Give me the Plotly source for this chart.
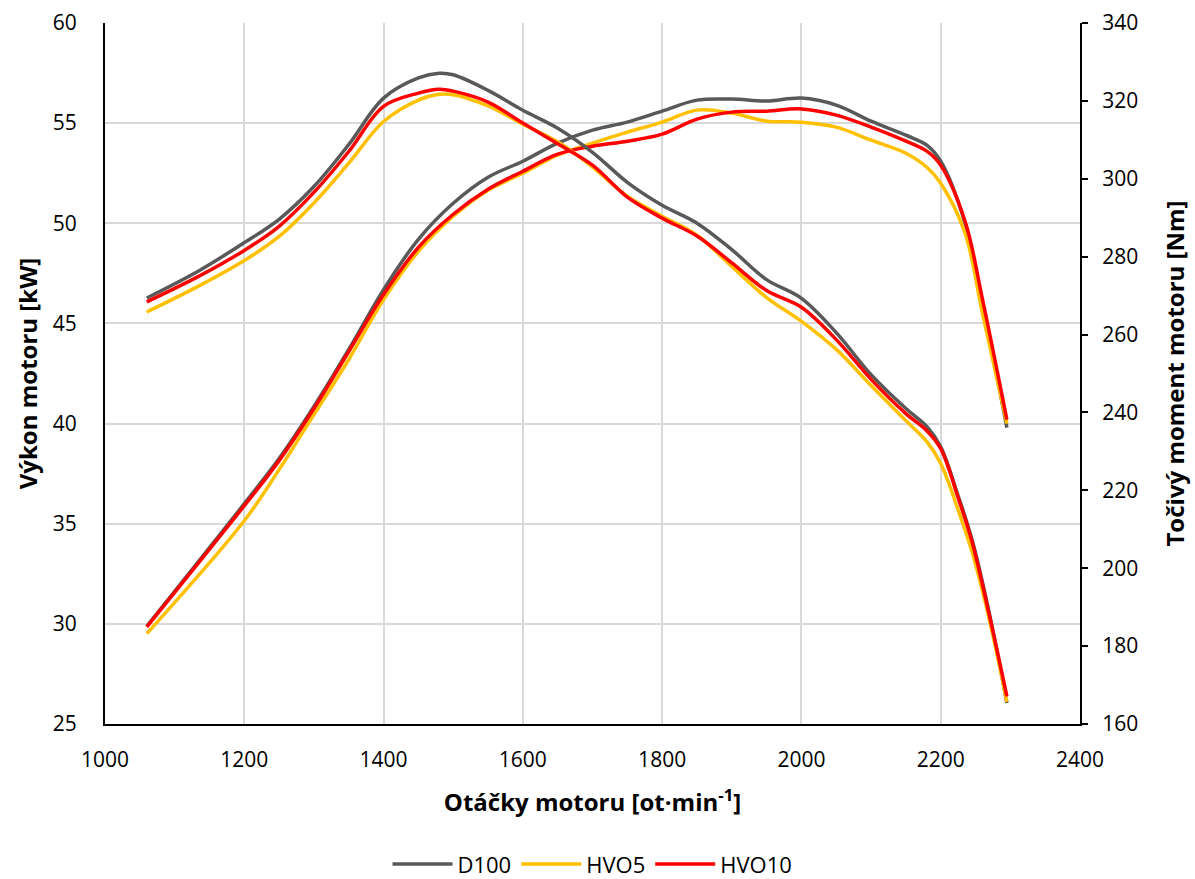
import plotly.graph_objects as go

# engine speed grids [rpm]
rpm_power = [1060, 1200, 1250, 1300, 1350, 1400, 1450, 1500, 1550, 1600, 1650, 1700,
             1750, 1800, 1850, 1900, 1950, 2000, 2050, 2100, 2150, 2180, 2200, 2235, 2260, 2295]
rpm_torque = [1060, 1135, 1200, 1250, 1300, 1350, 1400, 1450, 1480, 1500, 1550, 1600, 1650, 1700,
              1750, 1800, 1850, 1900, 1950, 2000, 2050, 2100, 2150, 2180, 2200, 2225, 2245, 2270, 2295]

# engine power [kW]
power_d100 = [29.88, 36.0, 38.25, 40.85, 43.7, 46.69, 49.2, 51.0, 52.3, 53.1, 54.0, 54.65,
              55.05, 55.6, 56.15, 56.2, 56.1, 56.25, 55.9, 55.1, 54.4, 53.9, 53.1, 50.0, 46.0, 39.8]
power_hvo5 = [29.51, 35.15, 37.7, 40.45, 43.2, 46.19, 48.6, 50.35, 51.65, 52.5, 53.4, 54.0,
              54.55, 55.05, 55.65, 55.5, 55.1, 55.05, 54.8, 54.15, 53.5, 52.8, 52.0, 49.5, 45.5, 40.0]
power_hvo10 = [29.85, 35.9, 38.15, 40.75, 43.6, 46.44, 48.8, 50.45, 51.7, 52.6, 53.45, 53.85,
               54.1, 54.45, 55.2, 55.55, 55.6, 55.71, 55.4, 54.8, 54.1, 53.6, 52.9, 50.1, 46.2, 40.2]

# engine torque [Nm]
torque_d100 = [269.4, 276.4, 283.6, 289.6, 298.0, 308.8, 320.7, 325.9, 327.1, 326.7, 322.7, 317.6,
               313.0, 306.8, 299.1, 293.2, 288.6, 281.8, 274.1, 269.3, 260.5, 249.7, 241.0, 236.4,
               231.2, 218.6, 207.3, 188.3, 165.4]
torque_hvo5 = [265.8, 272.5, 279.0, 285.2, 293.8, 304.0, 314.7, 320.2, 321.7, 321.6, 318.7, 314.0,
               309.5, 303.0, 295.5, 290.4, 285.5, 277.5, 269.5, 263.4, 256.2, 246.9, 237.9, 232.5,
               226.9, 215.0, 204.2, 186.7, 165.7]
torque_hvo10 = [268.4, 275.0, 281.6, 287.8, 296.5, 307.0, 318.6, 322.0, 323.0, 322.5, 319.7, 314.3,
                309.0, 303.5, 295.3, 289.9, 285.3, 278.4, 271.3, 267.0, 258.7, 248.5, 239.7, 235.3,
                230.7, 218.1, 206.8, 187.8, 167.1]

series = [
    ("D100", "#595959", power_d100, torque_d100),
    ("HVO5", "#FFC000", power_hvo5, torque_hvo5),
    ("HVO10", "#FF0000", power_hvo10, torque_hvo10),
]

FONT = "Open Sans"
fig = go.Figure()
for name, color, p, t in series:
    fig.add_trace(go.Scatter(x=rpm_power, y=p, name=name, mode="lines",
                             line=dict(color=color, width=3.5, shape="spline", smoothing=1.0),
                             legendgroup=name, showlegend=True, yaxis="y"))
for name, color, p, t in series:
    fig.add_trace(go.Scatter(x=rpm_torque, y=t, name=name, mode="lines",
                             line=dict(color=color, width=3.5, shape="spline", smoothing=1.0),
                             legendgroup=name, showlegend=False, yaxis="y2"))

fig.update_layout(
    width=1195, height=879,
    margin=dict(l=105, r=115, t=23, b=155, autoexpand=False),
    paper_bgcolor="white", plot_bgcolor="white",
    font=dict(family=FONT, size=21, color="#000000"),
    xaxis=dict(range=[1000, 2400], dtick=200, showgrid=True, gridcolor="#d9d9d9", gridwidth=2,
               showline=True, linecolor="#000000", linewidth=2, ticks="", zeroline=False,
               ticklabelstandoff=16,
               title=dict(text="<b>Otáčky motoru [ot·min<sup>-1</sup>]</b>", font=dict(size=24), standoff=22)),
    yaxis=dict(range=[25, 60], dtick=5, showgrid=True, gridcolor="#d9d9d9", gridwidth=2,
               showline=True, linecolor="#000000", linewidth=2, ticks="", zeroline=False,
               ticklabelstandoff=22,
               title=dict(text="<b>Výkon motoru [kW]</b>", font=dict(size=24), standoff=8)),
    yaxis2=dict(range=[160, 340], dtick=20, overlaying="y", side="right", showgrid=False,
                showline=True, linecolor="#000000", linewidth=2, ticks="outside", ticklen=6,
                tickwidth=2, tickcolor="#000000", zeroline=False, ticklabelstandoff=10,
                title=dict(text="<b>Točivý moment motoru [Nm]</b>", font=dict(size=24), standoff=30)),
    legend=dict(orientation="h", x=0.5, xanchor="center", y=-0.2, yanchor="middle",
                font=dict(size=22), itemwidth=60, tracegroupgap=0),
)

fig.write_html("out.html")
